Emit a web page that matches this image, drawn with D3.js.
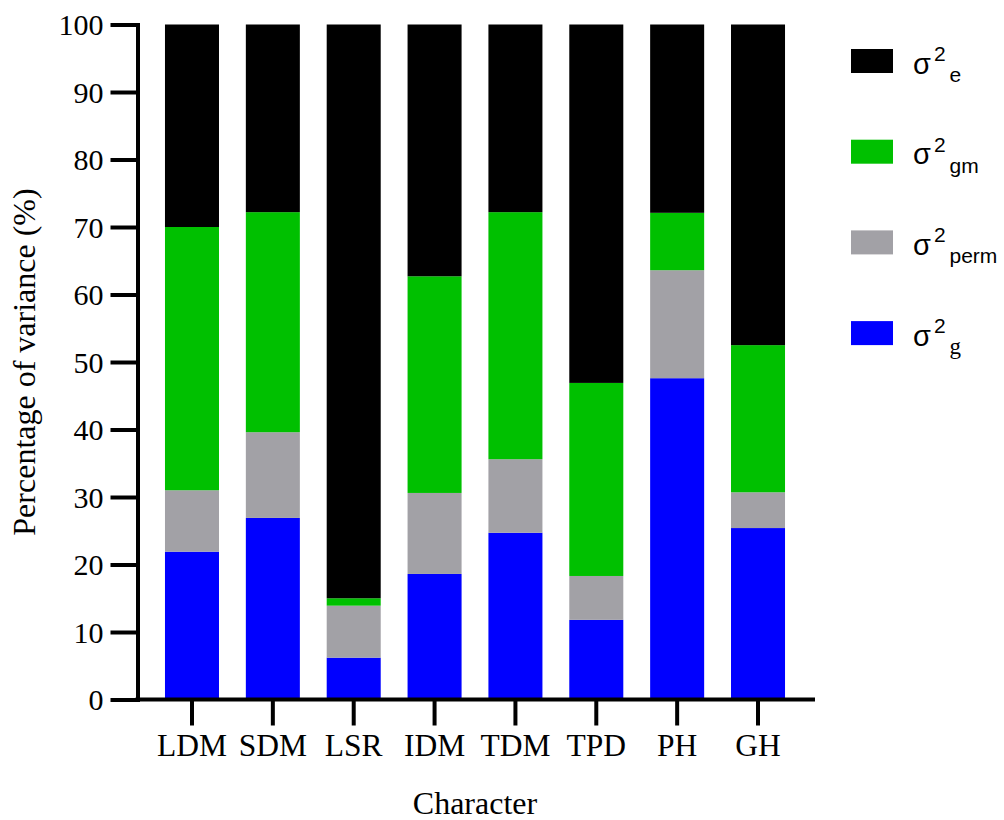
<!DOCTYPE html>
<html>
<head>
<meta charset="utf-8">
<script src="https://cdn.jsdelivr.net/npm/d3@7"></script>
<style>
  html, body { margin: 0; padding: 0; background: #fff; }
  svg { display: block; }
</style>
</head>
<body>
<svg id="chart" width="1004" height="820"></svg>
<script>
// ---- Data ----
const categories = ["LDM", "SDM", "LSR", "IDM", "TDM", "TPD", "PH", "GH"];
const sigmaG    = [21.9, 26.9, 6.2, 18.6, 24.7, 11.8, 47.6, 25.4];
const sigmaPerm = [9.1, 12.7, 7.7, 12.0, 10.9, 6.5, 16.0, 5.3];
const sigmaGM   = [39.0, 32.6, 1.1, 32.1, 36.6, 28.6, 8.5, 21.8];
const sigmaE    = [30.0, 27.8, 85.0, 37.3, 27.8, 53.1, 27.9, 47.5];
const yTicks = [0, 10, 20, 30, 40, 50, 60, 70, 80, 90, 100];
const seriesKeys = ["g", "perm", "gm", "e"];
const seriesColors = { g: "#0000ff", perm: "#a2a1a6", gm: "#00c000", e: "#000000" };
const legendOrder = ["e", "gm", "perm", "g"];
const xTitle = "Character";
const yTitle = "Percentage of variance (%)";

const rows = categories.map((c, i) => ({
  cat: c, g: sigmaG[i], perm: sigmaPerm[i], gm: sigmaGM[i], e: sigmaE[i]
}));

// ---- Layout ----
const svg = d3.select("#chart");
const serif = "'Liberation Serif', 'Times New Roman', Times, serif";
const sans = "'Liberation Sans', Arial, Helvetica, sans-serif";

const x = d3.scaleBand().domain(categories).range([137, 813])
  .paddingInner(0.332).paddingOuter(0.346);
const y = d3.scaleLinear().domain([0, 100]).range([699.5, 24.5]);

const stacked = d3.stack().keys(seriesKeys)(rows);

// ---- Bars ----
svg.append("g").selectAll("g").data(stacked).join("g")
  .attr("fill", d => seriesColors[d.key])
  .selectAll("rect").data(d => d).join("rect")
  .attr("x", d => x(d.data.cat))
  .attr("width", x.bandwidth())
  .attr("y", d => y(d[1]))
  .attr("height", d => y(d[0]) - y(d[1]));

// ---- Y axis ----
const yAxis = svg.append("g").attr("transform", "translate(137.5,0)")
  .call(d3.axisLeft(y).tickValues(yTicks).tickSize(27).tickSizeOuter(0).tickPadding(7));
yAxis.select(".domain").attr("stroke-width", 4).attr("stroke", "#000").attr("stroke-linecap", "square");
yAxis.selectAll(".tick line").attr("stroke-width", 4).attr("stroke", "#000");
yAxis.selectAll(".tick text").attr("font-family", serif).attr("font-size", 30)
  .attr("fill", "#000").attr("dy", "0.34em");

// ---- X axis ----
const xAxis = svg.append("g").attr("transform", "translate(0,699.5)")
  .call(d3.axisBottom(x).tickSize(26).tickSizeOuter(0).tickPadding(8));
xAxis.select(".domain").attr("stroke-width", 4).attr("stroke", "#000")
  .attr("d", "M135.5,0H815");
xAxis.selectAll(".tick line").attr("stroke-width", 4).attr("stroke", "#000");
xAxis.selectAll(".tick text").attr("font-family", serif).attr("font-size", 31.5)
  .attr("fill", "#000").attr("dy", "0.71em");

// ---- Titles ----
svg.append("text").attr("x", 475).attr("y", 814).attr("text-anchor", "middle")
  .attr("font-family", serif).attr("font-size", 32).text(xTitle);
svg.append("text").attr("transform", "translate(35,362) rotate(-90)")
  .attr("text-anchor", "middle").attr("font-family", serif).attr("font-size", 32)
  .text(yTitle);

// ---- Legend ----
const legend = svg.append("g");
legendOrder.forEach((k, i) => {
  const cy = 61 + i * 90.7;
  legend.append("rect").attr("x", 851).attr("y", cy - 12).attr("width", 42).attr("height", 24)
    .attr("fill", seriesColors[k]);
  legend.append("text").attr("x", 913).attr("y", cy + 12.5)
    .attr("font-family", sans).attr("font-size", 29).text("σ");
  legend.append("text").attr("x", 934).attr("y", cy + 0)
    .attr("font-family", sans).attr("font-size", 21).text("2");
  legend.append("text").attr("x", 949.5).attr("y", cy + 21)
    .attr("font-family", k === "g" ? serif : sans).attr("font-size", k === "g" ? 23 : 21).text(k);
});
</script>
</body>
</html>
